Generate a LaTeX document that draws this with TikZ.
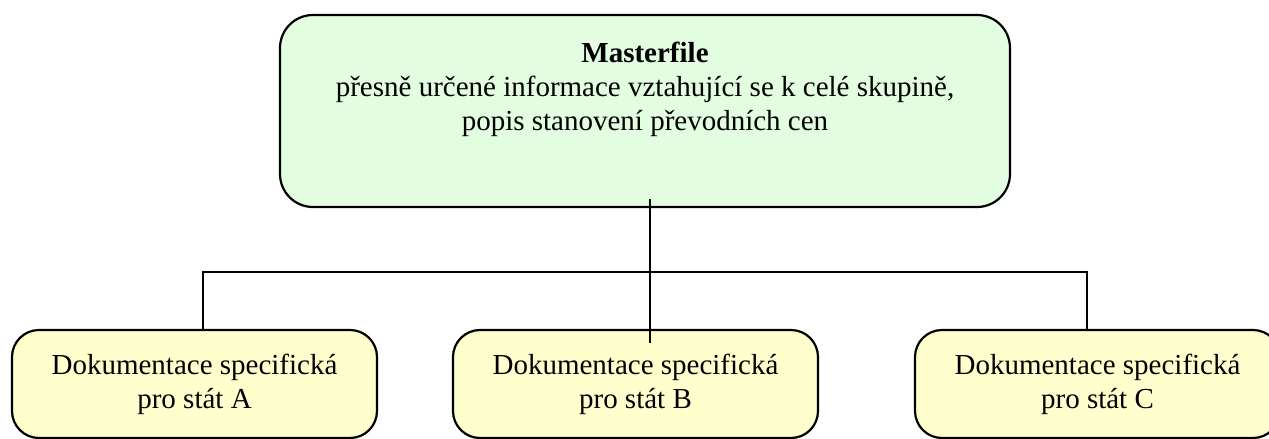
\documentclass[tikz,border=0pt]{standalone}
\usepackage{fontspec}
\setmainfont{Liberation Serif}
\usepackage{tikz}
\usetikzlibrary{calc}
\definecolor{masterfill}{RGB}{226,253,224}
\definecolor{statefill}{RGB}{255,255,206}
\tikzstyle{every node}=[font=\fontsize{14.5}{17}\selectfont]
\tikzstyle{masterbox}=[draw, line width=1.1pt, fill=masterfill, rounded corners=16.5pt, minimum width=365pt, minimum height=96pt, inner sep=0pt]
\tikzstyle{statebox}=[draw, line width=1.1pt, fill=statefill, rounded corners=13.5pt, minimum width=182.5pt, minimum height=54pt, inner sep=0pt]
\tikzstyle{txt}=[align=center, inner sep=0pt, anchor=north]
\tikzstyle{link}=[line width=0.75pt]

\begin{document}
\begin{tikzpicture}[x=0.5pt, y=-0.5pt]
                \clip (0, 0) rectangle (1269, 439);
                % boxes
                \node [masterbox] (master) at (645, 111) {};
                \node [statebox] (stA) at (194.5, 384) {};
                \node [statebox] (stB) at (635.5, 384) {};
                \node [statebox] (stC) at (1097.5, 384) {};
                % texts
                \node [txt] (masterTxt) at ([yshift=-14pt]master.north) {\textbf{Masterfile}\\přesně určené informace vztahující se k celé skupině,\\popis stanovení převodních cen};
                \node [txt] (stATxt) at ([yshift=-12.5pt]stA.north) {Dokumentace specifická\\pro stát A};
                \node [txt] (stBTxt) at ([yshift=-12.5pt]stB.north) {Dokumentace specifická\\pro stát B};
                \node [txt] (stCTxt) at ([yshift=-12.5pt]stC.north) {Dokumentace specifická\\pro stát C};
                % connectors
                \coordinate (masterEnd) at (650, 199);
                \coordinate (stBEnd) at (650, 343);
                \coordinate (stATop) at (203, 330);
                \coordinate (stCTop) at (1087, 330);
                \draw [link] (masterEnd) -- (stBEnd);
                \draw [link] (stATop) |- (stCTop |- 0, 272) -- (stCTop);
            \end{tikzpicture}
\end{document}
